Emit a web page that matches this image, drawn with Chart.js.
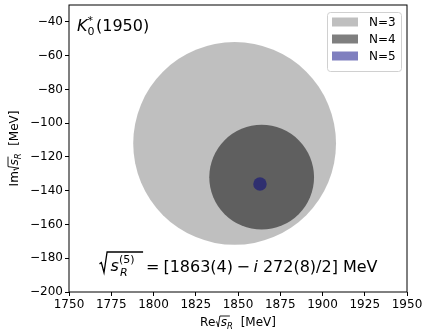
<!DOCTYPE html>
<html><head><meta charset="utf-8">
<script src="https://cdn.jsdelivr.net/npm/chart.js@4/dist/chart.umd.min.js"></script>
<style>html,body{margin:0;padding:0;background:#fff}#wrap{width:423px;height:330px}</style>
</head><body><div id="wrap"><canvas id="c" width="423" height="330"></canvas></div>
<script>
// ---- data ----
const seriesLabels = ['N=3', 'N=4', 'N=5'];
const centerRe = [1848, 1864, 1863];   // MeV
const centerIm = [-112, -132, -136];   // MeV
const radiusMeV = [60, 31, 4];         // MeV (circle radius in data units)
const xTicks = [1750, 1775, 1800, 1825, 1850, 1875, 1900, 1925, 1950];
const yTicks = [-200, -180, -160, -140, -120, -100, -80, -60, -40];
const xRange = [1750, 1950];
const yRange = [-200, -30];
const resonanceName = ['K', '0', '*', '(1950)'];
const resultPieces = ['=', '[1863(4)', '\u2212', 'i', '272(8)/2]', 'MeV'];

// ---- styles ----
const fills = ['rgba(0,0,0,0.25)', 'rgba(0,0,0,0.5)', 'rgba(0,0,128,0.5)'];
const FONT = "'DejaVu Sans', sans-serif";

function pixRadius(chart, i) {
  const s = chart.scales.x;
  if (!s) return 0;
  const r = Math.abs(s.getPixelForValue(centerRe[i] + radiusMeV[i]) - s.getPixelForValue(centerRe[i]));
  return isFinite(r) ? r : 0;
}

const datasets = seriesLabels.map((lab, i) => ({
  label: lab,
  data: [{ x: centerRe[i], y: centerIm[i] }],
  backgroundColor: fills[i],
  pointBackgroundColor: fills[i],
  pointBorderWidth: 0,
  borderWidth: 0,
  order: 3 - i,
  pointRadius: (ctx) => pixRadius(ctx.chart, i),
  pointHoverRadius: (ctx) => pixRadius(ctx.chart, i),
  pointHoverBorderWidth: 0,
  showLine: false
}));

function drawRadical(ctx, x, top, bottom, width, lw) {
  const h = bottom - top;
  ctx.save();
  ctx.strokeStyle = '#000';
  ctx.lineWidth = lw;
  ctx.lineJoin = 'miter';
  ctx.beginPath();
  ctx.moveTo(x, top + h * 0.58);
  ctx.lineTo(x + h * 0.09, top + h * 0.52);
  ctx.lineTo(x + h * 0.22, bottom);
  ctx.lineTo(x + h * 0.37, top);
  ctx.lineTo(x + h * 0.37 + width, top);
  ctx.stroke();
  ctx.restore();
  return x + h * 0.37;
}

const decor = {
  id: 'decor',
  afterDatasetsDraw(chart) {
    const ctx = chart.ctx;
    const a = chart.chartArea;
    ctx.save();
    // spines
    ctx.strokeStyle = '#000';
    ctx.lineWidth = 1;
    ctx.strokeRect(a.left, a.top, a.right - a.left, a.bottom - a.top);

    // legend
    const lx = 327, ly = 12, lw = 74, lh = 59;
    ctx.fillStyle = 'rgba(255,255,255,0.8)';
    ctx.strokeStyle = '#d0d0d0';
    ctx.lineWidth = 1;
    ctx.beginPath();
    ctx.roundRect(lx + 0.5, ly + 0.5, lw, lh, 3);
    ctx.fill(); ctx.stroke();
    ctx.font = '12px ' + FONT;
    ctx.textBaseline = 'middle';
    ctx.textAlign = 'left';
    seriesLabels.forEach((lab, i) => {
      const cy = 22 + i * 17;
      ctx.fillStyle = fills[i];
      ctx.fillRect(332, cy - 4.5, 26, 9);
      ctx.fillStyle = '#000';
      ctx.fillText(lab, 369, cy + 0.5);
    });

    // resonance name
    ctx.textBaseline = 'alphabetic';
    ctx.fillStyle = '#000';
    let x = 77;
    ctx.font = 'italic 16px ' + FONT;
    ctx.fillText(resonanceName[0], x, 31);
    x += ctx.measureText(resonanceName[0]).width;
    ctx.font = '11px ' + FONT;
    ctx.fillText(resonanceName[1], x, 35);
    ctx.fillText(resonanceName[2], x, 24);
    x += ctx.measureText(resonanceName[1]).width + 1.5;
    ctx.font = '16px ' + FONT;
    ctx.fillText(resonanceName[3], x, 31);

    // result formula
    const base = 272;
    let rx = drawRadical(ctx, 99.5, 252, 272.5, 36, 1.3);
    ctx.font = 'italic 16px ' + FONT;
    ctx.fillText('s', rx + 3.5, base - 1);
    const sx = rx + 3.5 + ctx.measureText('s').width;
    ctx.font = '11px ' + FONT;
    ctx.fillText('(5)', sx, 263);
    ctx.font = 'italic 11px ' + FONT;
    ctx.fillText('R', sx + 1, 276);
    const gaps = [4, 3.5, 3.5, 5, 5, 0];
    let fx = 146;
    resultPieces.forEach((p, k) => {
      ctx.font = (p === 'i' ? 'italic ' : '') + '16px ' + FONT;
      ctx.fillText(p, fx, base);
      fx += ctx.measureText(p).width + gaps[k];
    });

    // axis titles
    function measureTitle(c, prefix) {
      c.font = '12px ' + FONT;
      let w = c.measureText(prefix).width;
      w += 5.5;
      c.font = 'italic 12px ' + FONT;
      w += c.measureText('s').width;
      c.font = 'italic 8.5px ' + FONT;
      w += c.measureText('R').width;
      c.font = '12px ' + FONT;
      w += c.measureText('  [MeV]').width;
      return w;
    }
    function drawTitle(c, prefix, startX, baseY) {
      let tx = startX;
      c.font = '12px ' + FONT;
      c.fillText(prefix, tx, baseY);
      tx += c.measureText(prefix).width;
      const r = drawRadical(c, tx + 0.5, baseY - 10, baseY + 1, 10, 0.9);
      tx = r + 1;
      c.font = 'italic 12px ' + FONT;
      c.fillText('s', tx, baseY);
      tx += c.measureText('s').width;
      c.font = 'italic 8.5px ' + FONT;
      c.fillText('R', tx, baseY + 2.5);
      tx += c.measureText('R').width;
      c.font = '12px ' + FONT;
      c.fillText('  [MeV]', tx, baseY);
    }
    const cxm = (a.left + a.right) / 2;
    const wX = measureTitle(ctx, 'Re');
    drawTitle(ctx, 'Re', cxm - wX / 2, 326);
    const cym = (a.top + a.bottom) / 2;
    const wY = measureTitle(ctx, 'Im');
    ctx.save();
    ctx.translate(18, cym);
    ctx.rotate(-Math.PI / 2);
    drawTitle(ctx, 'Im', -wY / 2, 0);
    ctx.restore();
    ctx.restore();
  }
};

const minus = v => String(v).replace('-', '\u2212');

new Chart(document.getElementById('c'), {
  type: 'scatter',
  data: { datasets },
  options: {
    responsive: false,
    devicePixelRatio: 1,
    animation: false,
    events: [],
    layout: { padding: { left: 0, right: 16, top: 5, bottom: 0 } },
    plugins: { legend: { display: false }, tooltip: { enabled: false } },
    scales: {
      x: {
        type: 'linear',
        min: xRange[0], max: xRange[1],
        afterBuildTicks: s => { s.ticks = xTicks.map(v => ({ value: v })); },
        afterFit: s => { s.height = 38; s.paddingLeft = 0; s.paddingRight = 0; },
        grid: { drawOnChartArea: false, drawTicks: true, tickLength: 4, color: '#000', lineWidth: 1 },
        border: { display: false },
        ticks: { color: '#000', font: { family: FONT, size: 12 }, padding: 2, maxRotation: 0, callback: minus }
      },
      y: {
        type: 'linear',
        min: yRange[0], max: yRange[1],
        afterBuildTicks: s => { s.ticks = yTicks.map(v => ({ value: v })); },
        afterFit: s => { s.width = 69; s.paddingTop = 0; s.paddingBottom = 0; },
        grid: { drawOnChartArea: false, drawTicks: true, tickLength: 4, color: '#000', lineWidth: 1 },
        border: { display: false },
        ticks: { color: '#000', font: { family: FONT, size: 12 }, padding: 2, callback: minus }
      }
    }
  },
  plugins: [decor]
});
</script></body></html>
